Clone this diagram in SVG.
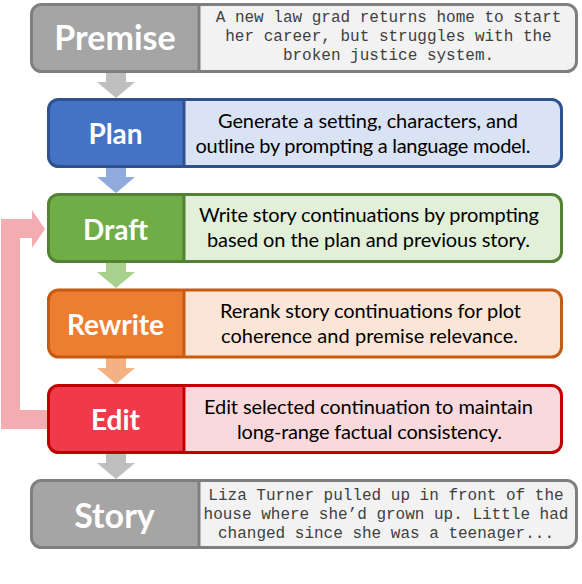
<svg xmlns="http://www.w3.org/2000/svg" width="582" height="584" viewBox="0 0 582 584">
<style>
.lbl{font-family:Lato,"Open Sans",sans-serif;font-weight:bold;fill:#ffffff;text-anchor:middle}
.big{font-size:34px}
.mid{font-size:28px}
.desc{font-family:Lato,"Liberation Sans",sans-serif;font-size:20px;fill:#000000;text-anchor:middle}
.mono{font-family:"Liberation Mono","DejaVu Sans Mono",monospace;font-size:16px;fill:#404040;text-anchor:middle}
.frame{fill:none;stroke-width:3}
</style>
<rect width="582" height="584" fill="#ffffff"/>
<g id="connectors">
  <polygon fill="#bfbfbf" points="106,72 126,72 126,82 135,82 116,98 97,82 106,82"/>
  <polygon fill="#8faadc" points="106,167 126,167 126,177 135,177 116,193 97,177 106,177"/>
  <polygon fill="#a9d18e" points="106,262 126,262 126,272 135,272 116,288 97,272 106,272"/>
  <polygon fill="#f4b183" points="106,358 126,358 126,368 135,368 116,384 97,368 106,368"/>
  <polygon fill="#bfbfbf" points="106,453 126,453 126,463 135,463 116,479 97,463 106,463"/>
  <polygon fill="#f4acb3" points="47,410 20,410 20,238 32,238 32,248 45,229 32,210 32,219 1,219 1,429 47,429"/>
</g>
<g id="premise">
  <rect x="31.5" y="4.5" width="545" height="67" rx="10" fill="#f2f2f2"/>
  <path d="M199,4.5 H41.5 A10,10 0 0 0 31.5,14.5 V61.5 A10,10 0 0 0 41.5,71.5 H199 Z" fill="#a5a5a5"/>
  <rect class="frame" x="31.5" y="4.5" width="545" height="67" rx="10" stroke="#7f7f7f"/>
  <line x1="199" y1="4.5" x2="199" y2="71.5" stroke="#7f7f7f" stroke-width="3"/>
  <text class="lbl big" x="115" y="50">Premise</text>
  <text class="mono" x="388.5" y="22">A new law grad returns home to start</text>
  <text class="mono" x="388.5" y="41">her career, but struggles with the</text>
  <text class="mono" x="388.5" y="60">broken justice system.</text>
</g>
<g id="plan">
  <rect x="48.5" y="99.5" width="513" height="67" rx="10" fill="#dae3f3"/>
  <path d="M184,99.5 H58.5 A10,10 0 0 0 48.5,109.5 V156.5 A10,10 0 0 0 58.5,166.5 H184 Z" fill="#4472c4"/>
  <rect class="frame" x="48.5" y="99.5" width="513" height="67" rx="10" stroke="#2f528f"/>
  <line x1="184" y1="99.5" x2="184" y2="166.5" stroke="#2f528f" stroke-width="3"/>
  <text class="lbl mid" x="115.5" y="144">Plan</text>
  <text class="desc" x="368" y="128" textLength="300">Generate a setting, characters, and</text>
  <text class="desc" x="363" y="153" textLength="335">outline by prompting a language model.</text>
</g>
<g id="draft">
  <rect x="48.5" y="194.5" width="513" height="67" rx="10" fill="#e2f0d9"/>
  <path d="M184,194.5 H58.5 A10,10 0 0 0 48.5,204.5 V251.5 A10,10 0 0 0 58.5,261.5 H184 Z" fill="#70ad47"/>
  <rect class="frame" x="48.5" y="194.5" width="513" height="67" rx="10" stroke="#548235"/>
  <line x1="184" y1="194.5" x2="184" y2="261.5" stroke="#548235" stroke-width="3"/>
  <text class="lbl mid" x="115.5" y="240">Draft</text>
  <text class="desc" x="369" y="222" textLength="340">Write story continuations by prompting</text>
  <text class="desc" x="368.5" y="247" textLength="323">based on the plan and previous story.</text>
</g>
<g id="rewrite">
  <rect x="48.5" y="290" width="513" height="67" rx="10" fill="#fbe5d6"/>
  <path d="M184,290 H58.5 A10,10 0 0 0 48.5,300 V347 A10,10 0 0 0 58.5,357 H184 Z" fill="#ed7d31"/>
  <rect class="frame" x="48.5" y="290" width="513" height="67" rx="10" stroke="#c55a11"/>
  <line x1="184" y1="290" x2="184" y2="357" stroke="#c55a11" stroke-width="3"/>
  <text class="lbl mid" x="115.5" y="335">Rewrite</text>
  <text class="desc" x="370.5" y="318" textLength="301">Rerank story continuations for plot</text>
  <text class="desc" x="369.5" y="343" textLength="297">coherence and premise relevance.</text>
</g>
<g id="edit">
  <rect x="48.5" y="385.5" width="513" height="67" rx="10" fill="#fad9dc"/>
  <path d="M184,385.5 H58.5 A10,10 0 0 0 48.5,395.5 V442.5 A10,10 0 0 0 58.5,452.5 H184 Z" fill="#f03a4c"/>
  <rect class="frame" x="48.5" y="385.5" width="513" height="67" rx="10" stroke="#c00000"/>
  <line x1="184" y1="385.5" x2="184" y2="452.5" stroke="#c00000" stroke-width="3"/>
  <text class="lbl mid" x="115.5" y="430">Edit</text>
  <text class="desc" x="368.5" y="414" textLength="329">Edit selected continuation to maintain</text>
  <text class="desc" x="369.5" y="439" textLength="265">long-range factual consistency.</text>
</g>
<g id="story">
  <rect x="31.5" y="480.5" width="545" height="67" rx="10" fill="#f2f2f2"/>
  <path d="M199,480.5 H41.5 A10,10 0 0 0 31.5,490.5 V537.5 A10,10 0 0 0 41.5,547.5 H199 Z" fill="#a5a5a5"/>
  <rect class="frame" x="31.5" y="480.5" width="545" height="67" rx="10" stroke="#7f7f7f"/>
  <line x1="199" y1="480.5" x2="199" y2="547.5" stroke="#7f7f7f" stroke-width="3"/>
  <text class="lbl big" x="114.5" y="528">Story</text>
  <text class="mono" x="386" y="500">Liza Turner pulled up in front of the</text>
  <text class="mono" x="386" y="519">house where she’d grown up. Little had</text>
  <text class="mono" x="386" y="538">changed since she was a teenager...</text>
</g>
</svg>
